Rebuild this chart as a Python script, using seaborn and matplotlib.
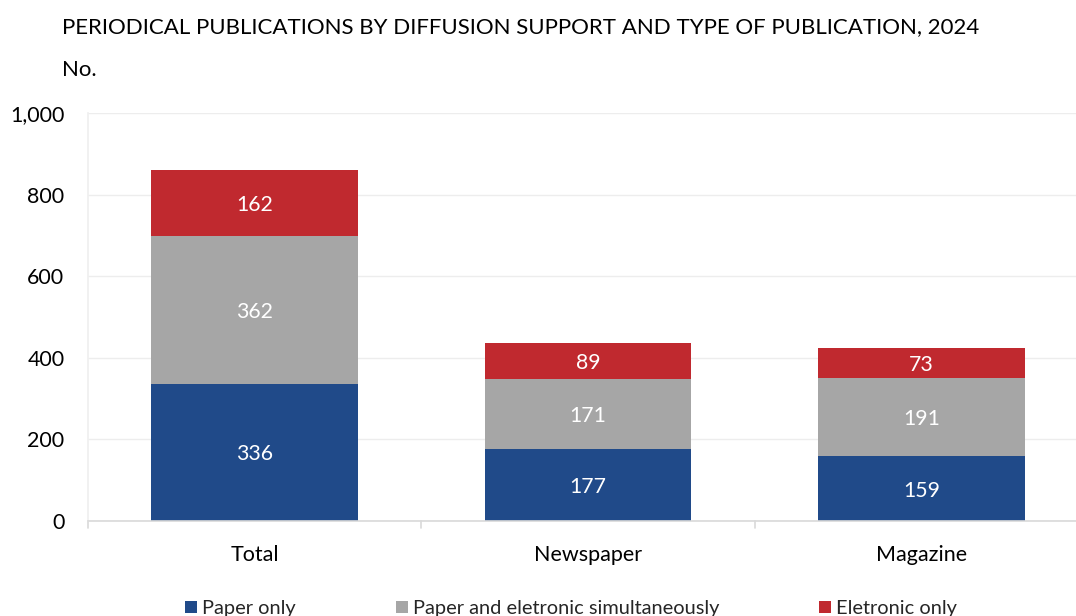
import matplotlib
matplotlib.use("Agg")
import matplotlib.pyplot as plt
import seaborn as sns
import numpy as np
import pandas as pd
from matplotlib.patches import Patch

categories = ["Total", "Newspaper", "Magazine"]
paper_only = [336, 177, 159]
paper_and_electronic = [362, 171, 191]
electronic_only = [162, 89, 73]
series_names = ["Paper only", "Paper and eletronic simultaneously", "Eletronic only"]
colors = ["#204A89", "#A6A6A6", "#C0292F"]
yticks = [0, 200, 400, 600, 800, 1000]
ytick_labels = ["0", "200", "400", "600", "800", "1,000"]

sns.set_theme(style="white")
plt.rcParams["font.family"] = ["Lato", "DejaVu Sans"]

fig = plt.figure(figsize=(10.76, 6.16), dpi=100)
ax = fig.add_axes([88/1076, 1 - 521/616, 1000/1076, (521 - 113)/616])

s1 = np.array(paper_only)
s2 = s1 + np.array(paper_and_electronic)
s3 = s2 + np.array(electronic_only)
layers = [(s3, colors[2]), (s2, colors[1]), (s1, colors[0])]
for vals, c in layers:
    df = pd.DataFrame({"cat": categories, "v": vals})
    sns.barplot(data=df, x="cat", y="v", color=c, width=0.62, ax=ax,
                saturation=1, edgecolor="none", linewidth=0, zorder=3)

bottoms = [np.zeros(3), s1, s2]
segs = [paper_only, paper_and_electronic, electronic_only]
for seg, bot in zip(segs, bottoms):
    for i, v in enumerate(seg):
        ax.text(i, bot[i] + v/2, f"{v}", ha="center", va="center_baseline",
                color="white", fontsize=15.3, zorder=5)

ax.set_xlim(-0.5, 2.5)
ax.set_ylim(0, 1000)
ax.set_yticks(yticks)
ax.set_yticklabels(ytick_labels, fontsize=15.4, color="#000000")
ax.tick_params(axis="y", length=0, pad=17)
ax.tick_params(axis="x", length=0, pad=17.5, labelsize=15.5, labelcolor="#000000")
ax.set_xlabel("")
ax.set_ylabel("")
ax.grid(axis="y", color="#EDEDED", linewidth=1, zorder=0)
ax.set_axisbelow(True)
for s in ["top", "right"]:
    ax.spines[s].set_visible(False)
ax.spines["left"].set_color("#F0F0F0")
ax.spines["bottom"].set_color("#D9D9D9")
ax.spines["bottom"].set_linewidth(1.2)
ax.spines["bottom"].set_zorder(4)
for xb in [-0.5, 0.5, 1.5]:
    ax.plot([xb, xb], [0, -0.018], transform=ax.get_xaxis_transform(),
            color="#D9D9D9", linewidth=1.2, clip_on=False)

fig.text(62/1076, 1 - 27/616, "PERIODICAL PUBLICATIONS BY DIFFUSION SUPPORT AND TYPE OF PUBLICATION, 2024",
         fontsize=16, ha="left", va="center", color="#000000")
fig.text(62/1076, 1 - 70/616, "No.", fontsize=16, ha="left", va="center", color="#000000")

handles = [Patch(facecolor=c, edgecolor="none") for c in colors]
fig.legend(handles, series_names, loc="center", bbox_to_anchor=(0.531, 0.012),
           ncol=3, frameon=False, fontsize=14.4, handlelength=0.6, handleheight=0.6,
           handletextpad=0.25, columnspacing=5.0)

fig.savefig("out.png", dpi=100)
